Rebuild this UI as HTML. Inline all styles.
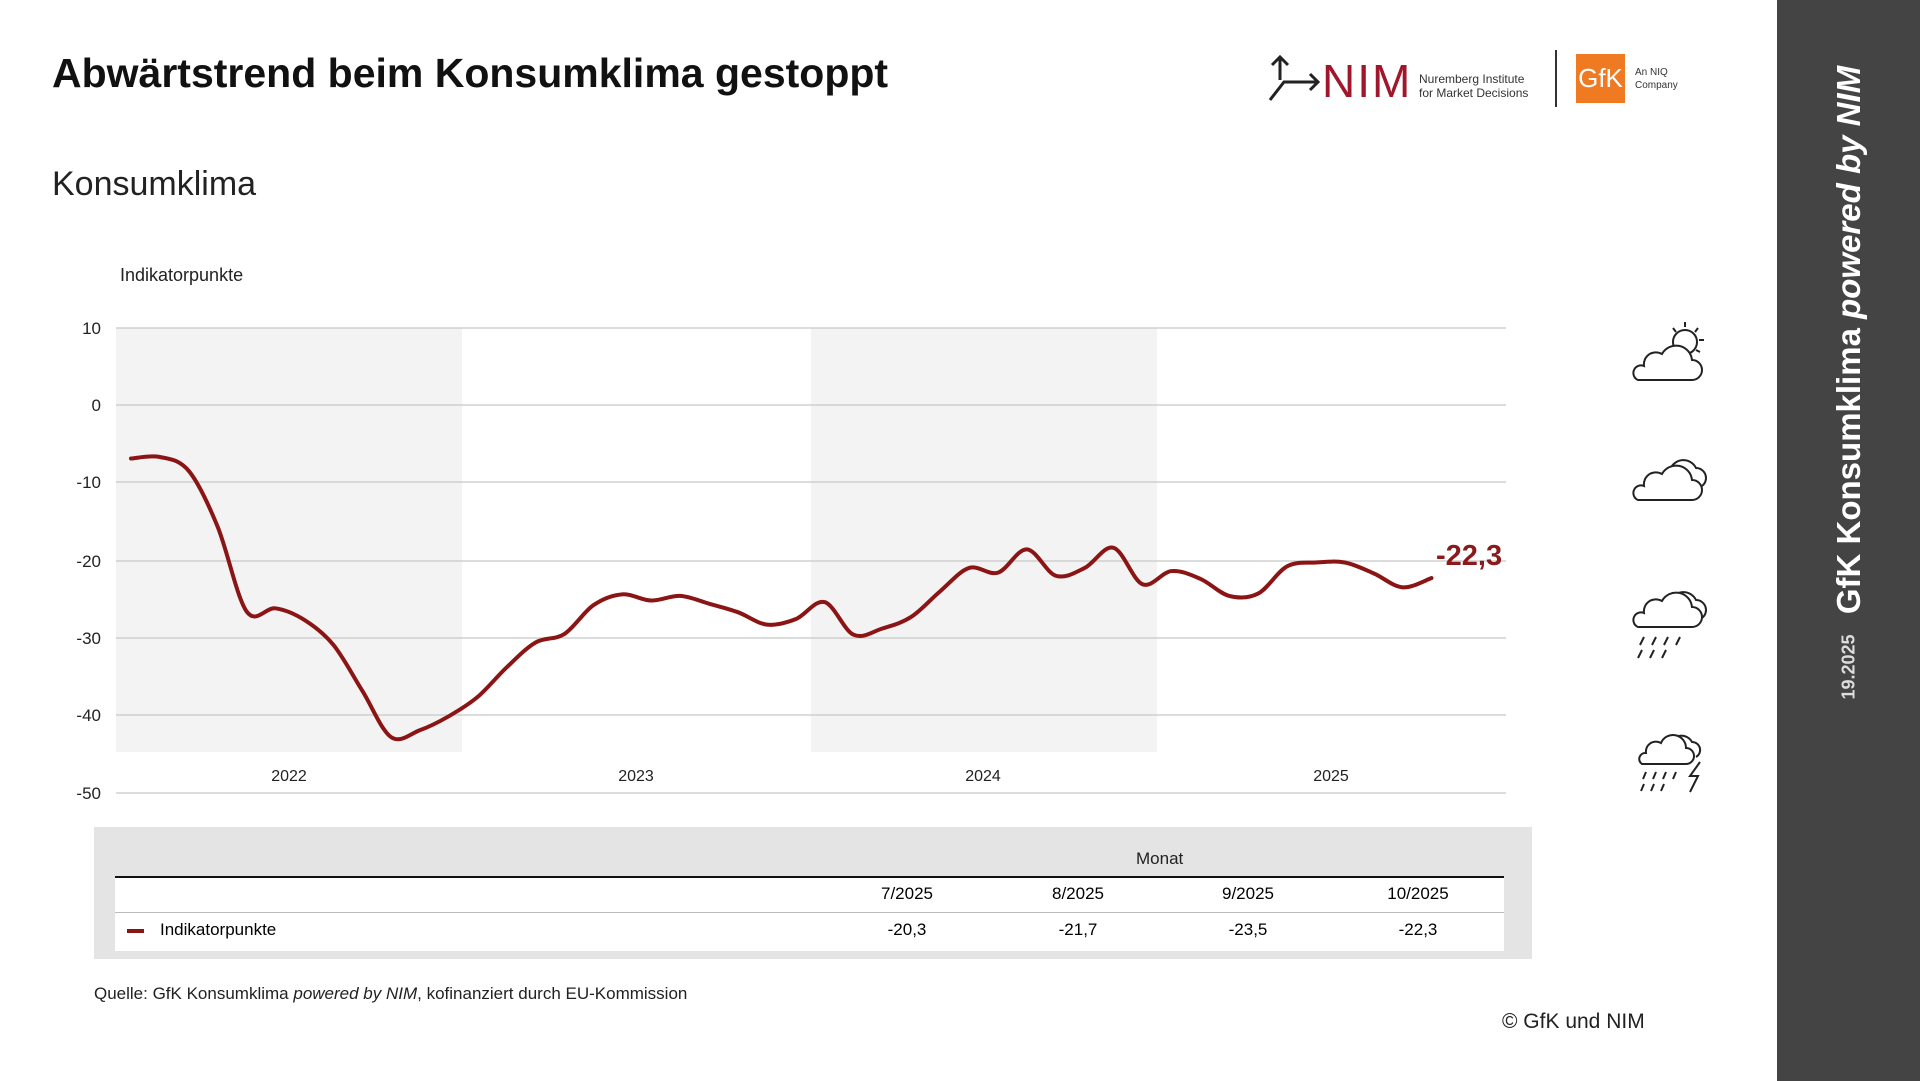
<!DOCTYPE html>
<html><head><meta charset="utf-8">
<style>
body{margin:0;width:1920px;height:1081px;overflow:hidden;background:#fff;font-family:"Liberation Sans",sans-serif;position:relative}
.a{position:absolute;white-space:nowrap}
</style></head><body>
<div class="a" style="left:52px;top:50px;font-size:41px;font-weight:bold;color:#111">Abwärtstrend beim Konsumklima gestoppt</div>
<div class="a" style="left:52px;top:165px;font-size:34px;color:#222">Konsumklima</div>
<div class="a" style="left:120px;top:265px;font-size:18px;color:#222">Indikatorpunkte</div>

<svg class="a" style="left:0;top:0" width="1777" height="1081" id="ch">
<rect x="116" y="328" width="346" height="424" fill="#f3f3f3"/>
<rect x="811" y="328" width="346" height="424" fill="#f3f3f3"/>
<g stroke="#d0d0d0" stroke-width="1.5">
<line x1="116" x2="1506" y1="328" y2="328"/><line x1="116" x2="1506" y1="405" y2="405"/>
<line x1="116" x2="1506" y1="482" y2="482"/><line x1="116" x2="1506" y1="561" y2="561"/>
<line x1="116" x2="1506" y1="638" y2="638"/><line x1="116" x2="1506" y1="715" y2="715"/>
<line x1="116" x2="1506" y1="793" y2="793"/>
</g>
<g font-size="17" fill="#222" text-anchor="end" font-family="Liberation Sans">
<text x="101" y="334">10</text><text x="101" y="411">0</text><text x="101" y="488">-10</text>
<text x="101" y="567">-20</text><text x="101" y="644">-30</text><text x="101" y="721">-40</text><text x="101" y="799">-50</text>
</g>
<g font-size="16" fill="#222" text-anchor="middle" font-family="Liberation Sans">
<text x="289" y="781">2022</text><text x="636" y="781">2023</text><text x="983" y="781">2024</text><text x="1331" y="781">2025</text>
</g>
<path id="ln" fill="none" stroke="#8b1414" stroke-width="4" stroke-linejoin="round" stroke-linecap="round"/>
<text x="1436" y="565" font-size="29" font-weight="bold" fill="#8b1a1a" font-family="Liberation Sans">-22,3</text>
</svg>
<script>
var v=[-6.9,-6.7,-8.5,-15.7,-26.6,-26.2,-27.7,-30.9,-36.8,-42.8,-41.9,-40.1,-37.6,-33.8,-30.6,-29.5,-25.8,-24.4,-25.2,-24.6,-25.6,-26.7,-28.3,-27.6,-25.4,-29.6,-28.8,-27.3,-24.0,-21.0,-21.6,-18.6,-22.0,-21.0,-18.4,-23.1,-21.4,-22.4,-24.6,-24.3,-20.8,-20.3,-20.3,-21.7,-23.5,-22.3];
var p=v.map(function(d,i){return [131+i*28.9,405-d*7.76]});
var s="M"+p[0][0]+","+p[0][1];
for(var i=0;i<p.length-1;i++){var a=p[Math.max(i-1,0)],b=p[i],c=p[i+1],d=p[Math.min(i+2,p.length-1)];
s+=" C"+(b[0]+(c[0]-a[0])/6)+","+(b[1]+(c[1]-a[1])/6)+" "+(c[0]-(d[0]-b[0])/6)+","+(c[1]-(d[1]-b[1])/6)+" "+c[0]+","+c[1];}
document.getElementById("ln").setAttribute("d",s);
</script>

<div class="a" style="left:94px;top:827px;width:1438px;height:132px;background:#e4e4e4"></div>
<div class="a" style="left:115px;top:876px;width:1389px;height:73px;background:#fff;border-top:2px solid #111"></div>
<div class="a" style="left:115px;top:912px;width:1389px;height:1px;background:#bbb"></div>
<div class="a" style="left:1136px;top:849px;font-size:17px;color:#222">Monat</div>
<div class="a" style="left:877px;top:884px;font-size:17px;width:60px;text-align:center">7/2025</div>
<div class="a" style="left:1048px;top:884px;font-size:17px;width:60px;text-align:center">8/2025</div>
<div class="a" style="left:1218px;top:884px;font-size:17px;width:60px;text-align:center">9/2025</div>
<div class="a" style="left:1383px;top:884px;font-size:17px;width:70px;text-align:center">10/2025</div>
<div class="a" style="left:127px;top:929px;width:17px;height:4px;background:#8b1414"></div>
<div class="a" style="left:160px;top:920px;font-size:17px">Indikatorpunkte</div>
<div class="a" style="left:877px;top:920px;font-size:17px;width:60px;text-align:center">-20,3</div>
<div class="a" style="left:1048px;top:920px;font-size:17px;width:60px;text-align:center">-21,7</div>
<div class="a" style="left:1218px;top:920px;font-size:17px;width:60px;text-align:center">-23,5</div>
<div class="a" style="left:1388px;top:920px;font-size:17px;width:60px;text-align:center">-22,3</div>
<div class="a" style="left:94px;top:984px;font-size:17px;color:#222">Quelle: GfK Konsumklima <i>powered by NIM</i>, kofinanziert durch EU-Kommission</div>
<div class="a" style="left:1502px;top:1010px;font-size:21px;color:#222">© GfK und NIM</div>

<!-- logos -->
<svg class="a" style="left:1268px;top:52px" width="60" height="55"><g stroke="#222" stroke-width="3" fill="none"><path d="M12 5 V28 M4 13 L12 5 L20 13 M2 48 L16 30 H50 M42 22 L50 30 L42 38"/></g></svg>
<div class="a" style="left:1322px;top:58px;font-size:46px;color:#a0162a;letter-spacing:2px;line-height:46px">NIM</div>
<div class="a" style="left:1419px;top:72px;font-size:12px;line-height:14px;color:#333">Nuremberg Institute<br>for Market Decisions</div>
<div class="a" style="left:1555px;top:50px;width:2px;height:57px;background:#333"></div>
<div class="a" style="left:1576px;top:54px;width:49px;height:49px;background:#f07a22;color:#fff;font-size:26px;text-align:center;line-height:49px">GfK</div>
<div class="a" style="left:1635px;top:66px;font-size:10px;line-height:13px;color:#333">An NIQ<br>Company</div>

<!-- weather icons -->
<svg class="a" style="left:1630px;top:320px" width="90" height="480" fill="none" stroke="#222" stroke-width="2">
<g><circle cx="55" cy="22" r="12"/><path d="M55 2v5M68 8l-3 4M74 20h-5M43 8l3 4M70 32l-4-2"/>
<path d="M8 60 h54 a10 10 0 0 0 0-20 a16 16 0 0 0-30-6 a12 12 0 0 0-18 12 a7 7 0 0 0-6 14z" fill="#fff"/></g>
<g transform="translate(0,120)"><path d="M40 30 a14 14 0 0 1 26-2 a10 10 0 0 1 6 18"/>
<path d="M8 60 h54 a10 10 0 0 0 0-20 a16 16 0 0 0-30-6 a12 12 0 0 0-18 12 a7 7 0 0 0-6 14z" fill="#fff"/></g>
<g transform="translate(0,252)"><path d="M40 30 a14 14 0 0 1 26-2 a10 10 0 0 1 6 18"/>
<path d="M8 55 h54 a10 10 0 0 0 0-20 a16 16 0 0 0-30-6 a12 12 0 0 0-18 12 a7 7 0 0 0-6 14z" fill="#fff"/>
<path d="M14 65l-4 8M26 65l-4 8M38 65l-4 8M50 65l-4 8M12 78l-4 8M24 78l-4 8M36 78l-4 8"/></g>
<g transform="translate(4,402)"><path d="M36 22 a12 12 0 0 1 22-2 a8 8 0 0 1 4 15"/>
<path d="M8 42 h44 a8 8 0 0 0 0-16 a13 13 0 0 0-25-5 a10 10 0 0 0-15 10 a6 6 0 0 0-4 11z" fill="#fff"/>
<path d="M12 50l-3 7M22 50l-3 7M32 50l-3 7M42 50l-3 7M10 62l-3 7M20 62l-3 7M30 62l-3 7M66 40l-10 14h8l-8 16"/></g>
</svg>

<div class="a" style="left:1777px;top:0;width:143px;height:1081px;background:#444"></div>
<div class="a" style="left:1849px;top:340px;transform:translate(-50%,-50%) rotate(-90deg);font-size:33px;font-weight:bold;color:#fff">GfK Konsumklima <i>powered by NIM</i></div>
<div class="a" style="left:1849px;top:667px;transform:translate(-50%,-50%) rotate(-90deg);font-size:18px;font-weight:bold;color:#ddd">19.2025</div>
</body></html>
